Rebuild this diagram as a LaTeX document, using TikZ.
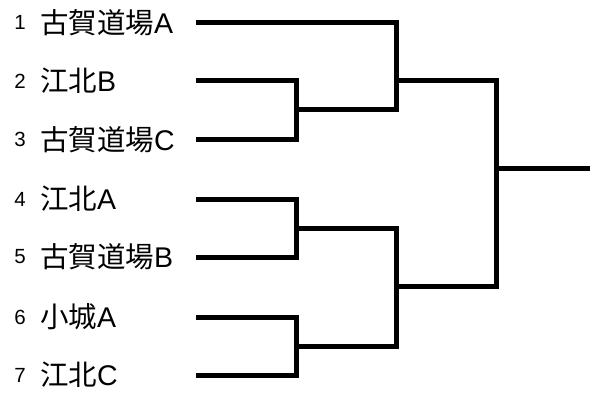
\documentclass[tikz,border=0pt]{standalone}
\usepackage{fontspec}
\setmainfont{Liberation Sans}
\newfontfamily\cjk{Noto Sans CJK JP}
\begin{document}
\begin{tikzpicture}[x=1pt,y=-1pt,
  wire/.style={line width=5pt, line join=miter, line cap=butt},
  team/.style={anchor=west, inner sep=0pt, font=\fontsize{28.5}{28.5}\selectfont},
  seed/.style={anchor=center, inner sep=0pt, font=\fontsize{20.5}{20.5}\selectfont}]
\useasboundingbox (0,0) rectangle (590,396);
% rows
\foreach \i/\y in {1/22.7,2/81,3/139.3,4/199,5/257,6/317,7/375}{
  \coordinate (a\i) at (196,\y);
  \coordinate (b\i) at (296,\y);
}
\node[seed] (s1) at (20,22.7) {1};
\node[seed] (s2) at (20,81) {2};
\node[seed] (s3) at (20,139.3) {3};
\node[seed] (s4) at (20,199) {4};
\node[seed] (s5) at (20,257) {5};
\node[seed] (s6) at (20,317) {6};
\node[seed] (s7) at (20,375) {7};
\node[team] (t1) at (40,22.7) {{\cjk 古賀道場}A};
\node[team] (t2) at (40,81) {{\cjk 江北}B};
\node[team] (t3) at (40,139.3) {{\cjk 古賀道場}C};
\node[team] (t4) at (40,199) {{\cjk 江北}A};
\node[team] (t5) at (40,257) {{\cjk 古賀道場}B};
\node[team] (t6) at (40,317) {{\cjk 小城}A};
\node[team] (t7) at (40,375) {{\cjk 江北}C};
% junctions
\coordinate (p23) at (296,110);
\coordinate (p45) at (296,228);
\coordinate (p67) at (296,346);
\coordinate (q1) at (396,22.7);
\coordinate (q23) at (396,110);
\coordinate (q45) at (396,228);
\coordinate (q67) at (396,346);
\coordinate (qt) at (396,81);
\coordinate (qb) at (396,286);
\coordinate (rt) at (496,81);
\coordinate (rb) at (496,286);
\coordinate (rm) at (496,169);
\coordinate (win) at (590,169);
% first round
\draw[wire] (a2) -- (b2) -- (b3) -- (a3);
\draw[wire] (a4) -- (b4) -- (b5) -- (a5);
\draw[wire] (a6) -- (b6) -- (b7) -- (a7);
% second round
\draw[wire] (a1) -- (q1) -- (q23) -- (p23);
\draw[wire] (p45) -- (q45) -- (q67) -- (p67);
% final
\draw[wire] (qt) -- (rt) -- (rb) -- (qb);
\draw[wire] (rm) -- (win);
\end{tikzpicture}
\end{document}
